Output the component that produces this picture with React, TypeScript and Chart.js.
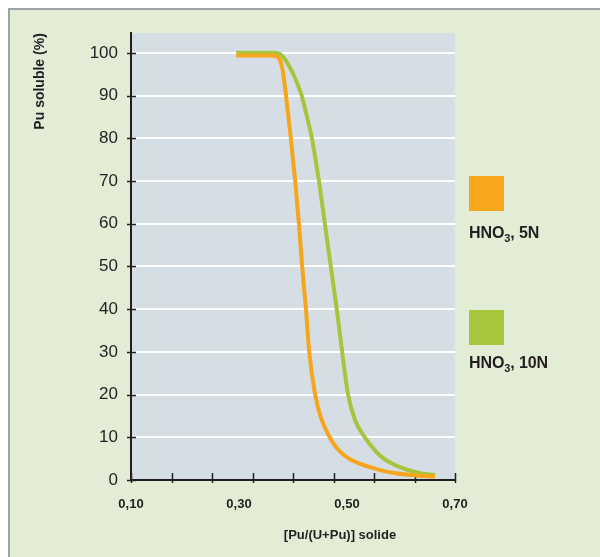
import React, { useEffect, useRef } from "react";
import { Chart, registerables } from "chart.js";

Chart.register(...registerables);

// ---- data ----
const xMin = 0.1;
const xMax = 0.7;
const yMin = 0;
const yMax = 104.6;
const xTickLabels = [0.1, 0.3, 0.5, 0.7];
const xTickMarks = [0.1, 0.175, 0.25, 0.325, 0.4, 0.475, 0.55, 0.625, 0.7];
const yTicks = [0, 10, 20, 30, 40, 50, 60, 70, 80, 90, 100];

const seriesNames = ["HNO3, 5N", "HNO3, 10N"];

const hno3_5N_x = [0.295, 0.36, 0.372, 0.38, 0.387, 0.396, 0.404, 0.411, 0.417, 0.424, 0.43, 0.441, 0.452, 0.468, 0.482, 0.5, 0.52, 0.543, 0.565, 0.593, 0.625, 0.663];
const hno3_5N_y = [99.4, 99.4, 99.0, 96.5, 90, 80, 70, 60, 50, 40, 30, 20, 14.5, 10, 7.3, 5.3, 4.0, 3.0, 2.2, 1.5, 1.1, 0.8];

const hno3_10N_x = [0.295, 0.36, 0.376, 0.385, 0.394, 0.401, 0.416, 0.425, 0.435, 0.448, 0.459, 0.47, 0.481, 0.491, 0.502, 0.515, 0.533, 0.548, 0.565, 0.598, 0.635, 0.663];
const hno3_10N_y = [100, 100, 99.7, 98.5, 96.6, 94.9, 90, 85.5, 80, 70, 60, 50, 40, 30, 20, 14, 10, 7.5, 5.3, 3.0, 1.6, 1.2];

// ---- styles ----
const ORANGE = "#f7a51c";
const GREEN = "#a5c53d";
const PLOT_BG = "#d5dee5";
const OUTER_BG = "#e3edd6";
const AXIS = "#231f20";
const FONT = "'Liberation Sans', Arial, Helvetica, sans-serif";

const toPoints = (xs: number[], ys: number[]) => xs.map((x, i) => ({ x, y: ys[i] }));

const framePlugin = {
  id: "frame",
  beforeDraw(chart: any) {
    const { ctx, chartArea: a } = chart;
    ctx.save();
    ctx.fillStyle = PLOT_BG;
    ctx.fillRect(a.left, a.top, a.right - a.left, a.bottom - a.top);
    ctx.restore();
  },
  beforeDatasetsDraw(chart: any) {
    const { ctx } = chart;
    const xs = chart.scales.x;
    const ys = chart.scales.y;
    ctx.save();
    ctx.strokeStyle = AXIS;
    ctx.lineWidth = 1.5;
    ctx.beginPath();
    for (const v of xTickMarks) {
      const px = Math.round(xs.getPixelForValue(v)) + 0.5;
      ctx.moveTo(px, ys.bottom - 7);
      ctx.lineTo(px, ys.bottom + 3);
    }
    for (const v of yTicks) {
      const py = Math.round(ys.getPixelForValue(v)) + 0.5;
      ctx.moveTo(xs.left - 4, py);
      ctx.lineTo(xs.left + 5, py);
    }
    ctx.stroke();
    ctx.restore();
  },
};

export default function App() {
  const canvasRef = useRef<HTMLCanvasElement | null>(null);

  useEffect(() => {
    if (!canvasRef.current) return;
    const chart = new Chart(canvasRef.current, {
      type: "line",
      data: {
        datasets: [
          {
            label: seriesNames[0],
            data: toPoints(hno3_5N_x, hno3_5N_y),
            borderColor: ORANGE,
            backgroundColor: ORANGE,
            borderWidth: 4,
            pointRadius: 0,
            cubicInterpolationMode: "monotone",
            fill: false,
          },
          {
            label: seriesNames[1],
            data: toPoints(hno3_10N_x, hno3_10N_y),
            borderColor: GREEN,
            backgroundColor: GREEN,
            borderWidth: 4,
            pointRadius: 0,
            cubicInterpolationMode: "monotone",
            fill: false,
          },
        ],
      },
      options: {
        animation: false,
        responsive: false,
        maintainAspectRatio: false,
        layout: { padding: { top: 18, right: 145, bottom: 0, left: 0 } },
        plugins: { legend: { display: false }, tooltip: { enabled: false } },
        scales: {
          x: {
            type: "linear",
            min: xMin,
            max: xMax,
            afterBuildTicks: (s: any) => {
              s.ticks = xTickLabels.map((value) => ({ value }));
            },
            afterFit: (s: any) => {
              s.height = 77;
            },
            grid: { display: false, drawTicks: false },
            border: { display: true, color: AXIS, width: 2 },
            ticks: {
              padding: 17,
              color: AXIS,
              font: { family: FONT, size: 13, weight: "bold" },
              maxRotation: 0,
              autoSkip: false,
              callback: (v: any) => Number(v).toFixed(2).replace(".", ","),
            },
          },
          y: {
            type: "linear",
            min: yMin,
            max: yMax,
            afterBuildTicks: (s: any) => {
              s.ticks = yTicks.map((value) => ({ value }));
            },
            afterFit: (s: any) => {
              s.width = 121;
            },
            grid: { color: "#ffffff", lineWidth: 2, drawTicks: false },
            border: { display: true, color: AXIS, width: 2 },
            ticks: {
              padding: 13,
              color: AXIS,
              font: { family: FONT, size: 17 },
              autoSkip: false,
            },
            title: {
              display: true,
              text: "Pu soluble (%)",
              align: "end",
              color: AXIS,
              font: { family: FONT, size: 14, weight: "bold" },
              padding: { top: 22, bottom: 0 },
            },
          },
        },
      },
      plugins: [framePlugin],
    } as any);
    return () => chart.destroy();
  }, []);

  const legendText: React.CSSProperties = {
    position: "absolute",
    left: 459,
    fontFamily: FONT,
    fontWeight: "bold",
    fontSize: 16,
    lineHeight: "16px",
    color: AXIS,
    letterSpacing: "-0.1px",
    whiteSpace: "nowrap",
  };
  const sub: React.CSSProperties = { fontSize: 11, position: "relative", top: 4, verticalAlign: "baseline" };

  return (
    <div
      style={{
        position: "fixed",
        left: 8,
        top: 8,
        width: 600,
        height: 560,
        boxSizing: "border-box",
        borderLeft: "2px solid #9ea3a3",
        borderTop: "2px solid #9ea3a3",
        background: OUTER_BG,
        overflow: "hidden",
      }}
    >
      <style>{"html{overflow:hidden}"}</style>
      <canvas ref={canvasRef} width={590} height={547} style={{ display: "block", position: "absolute", left: 0, top: 0 }} />
      <div style={{ position: "absolute", left: 459, top: 166, width: 35, height: 35, background: "#f8a61b" }} />
      <div style={{ ...legendText, top: 215 }}>
        HNO<span style={sub}>3</span>, 5N
      </div>
      <div style={{ position: "absolute", left: 459, top: 300, width: 35, height: 35, background: "#a6c63e" }} />
      <div style={{ ...legendText, top: 345 }}>
        HNO<span style={sub}>3</span>, 10N
      </div>
      <div
        style={{
          position: "absolute",
          left: 330,
          top: 518,
          transform: "translateX(-50%)",
          fontFamily: FONT,
          fontWeight: "bold",
          fontSize: 13,
          lineHeight: "13px",
          color: AXIS,
          whiteSpace: "nowrap",
        }}
      >
        [Pu/(U+Pu)] solide
      </div>
    </div>
  );
}
